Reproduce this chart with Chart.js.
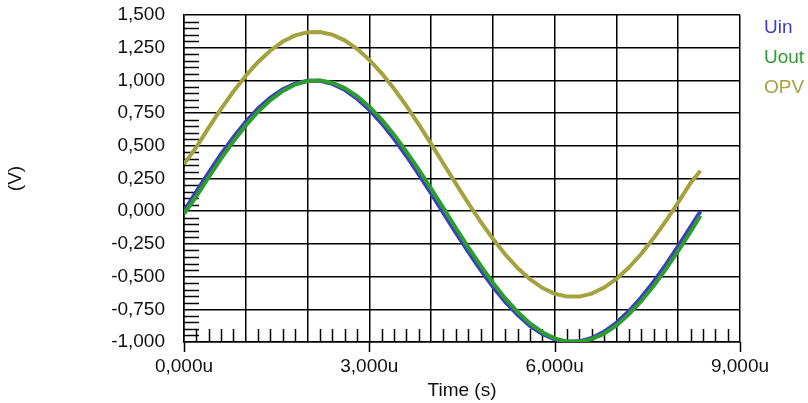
<!DOCTYPE html>
<html>
<head>
<meta charset="utf-8">
<title>Uin / Uout / OPV</title>
<script src="https://cdn.jsdelivr.net/npm/chart.js@4.4.1/dist/chart.umd.min.js"></script>
<style>
    html, body { margin: 0; padding: 0; background: #fff; }
    #wrap { position: relative; width: 808px; height: 403px; }
</style>
</head>
<body>
<div id="wrap"><canvas id="scopeChart" width="808" height="403"></canvas></div>
<script>
// Sample times in microseconds
const timeUs = [0, 200, 400, 600, 800, 1000, 1200, 1400, 1600, 1800,
    2000, 2200, 2400, 2600, 2800, 3000, 3200, 3400, 3600, 3800,
    4000, 4200, 4400, 4600, 4800, 5000, 5200, 5400, 5600, 5800,
    6000, 6200, 6400, 6600, 6800, 7000, 7200, 7400, 7600, 7800,
    8000, 8200, 8360];

// Voltages (V)
const uin = [0.000, 0.150, 0.296, 0.436, 0.566, 0.683, 0.785, 0.869, 0.933, 0.976,
    0.998, 0.997, 0.973, 0.928, 0.861, 0.775, 0.672, 0.553, 0.422, 0.282,
    0.135, -0.015, -0.165, -0.310, -0.449, -0.578, -0.694, -0.793, -0.876, -0.938,
    -0.980, -0.999, -0.995, -0.969, -0.922, -0.853, -0.765, -0.660, -0.541, -0.409,
    -0.267, -0.120, 0.000];

const uout = [-0.020, 0.113, 0.260, 0.402, 0.535, 0.656, 0.761, 0.850, 0.919, 0.968,
    0.995, 1.000, 0.982, 0.942, 0.880, 0.799, 0.700, 0.584, 0.456, 0.318,
    0.172, 0.023, -0.128, -0.274, -0.415, -0.547, -0.667, -0.770, -0.858, -0.925,
    -0.972, -0.997, -0.999, -0.978, -0.937, -0.873, -0.789, -0.688, -0.573, -0.443,
    -0.303, -0.157, -0.035];

const opv = [0.360, 0.490, 0.639, 0.782, 0.915, 1.036, 1.141, 1.229, 1.297, 1.344,
    1.368, 1.370, 1.349, 1.306, 1.242, 1.157, 1.054, 0.936, 0.805, 0.663,
    0.515, 0.363, 0.211, 0.063, -0.079, -0.211, -0.331, -0.434, -0.520, -0.586,
    -0.631, -0.653, -0.653, -0.630, -0.584, -0.518, -0.431, -0.327, -0.207, -0.075,
    0.068, 0.216, 0.310];

const seriesNames = ['Uin', 'Uout', 'OPV'];
const seriesColors = ['#3d3dc4', '#2b9e2b', '#a3a33e'];

const FONT = '"Liberation Sans", Arial, sans-serif';

function toPoints(values) {
    return values.map((v, i) => ({ x: timeUs[i], y: v }));
}

function formatComma(value, digits) {
    return Number(value).toFixed(digits).replace('.', ',');
}

// Short inner ticks along the left and bottom edges, plus the longer marks under labelled times
const minorTicks = {
    id: 'minorTicks',
    beforeDatasetsDraw(chart) {
        const { ctx, chartArea } = chart;
        const xs = chart.scales.x;
        const ys = chart.scales.y;
        ctx.save();
        ctx.strokeStyle = '#000';
        ctx.lineWidth = 1.5;
        ctx.beginPath();
        for (let i = 0; i <= 50; i++) {
            if (i % 5 === 0) continue;
            const y = Math.round(ys.getPixelForValue(-1 + i * 0.05)) + 0.5;
            ctx.moveTo(chartArea.left, y);
            ctx.lineTo(chartArea.left + 15, y);
        }
        for (let t = 200; t < 9000; t += 200) {
            if (t % 1000 === 0) continue;
            const x = Math.round(xs.getPixelForValue(t)) + 0.5;
            ctx.moveTo(x, chartArea.bottom);
            ctx.lineTo(x, chartArea.bottom - 13);
        }
        for (let t = 0; t <= 9000; t += 3000) {
            const x = Math.round(xs.getPixelForValue(t)) + 0.5;
            ctx.moveTo(x, chartArea.bottom);
            ctx.lineTo(x, chartArea.bottom + 10);
        }
        ctx.stroke();
        ctx.restore();
    }
};

// Coloured series names at the right, text only
const sideLegend = {
    id: 'sideLegend',
    afterDraw(chart) {
        const { ctx, chartArea } = chart;
        ctx.save();
        ctx.font = '19px ' + FONT;
        ctx.textAlign = 'left';
        ctx.textBaseline = 'middle';
        seriesNames.forEach((name, i) => {
            ctx.fillStyle = seriesColors[i];
            ctx.fillText(name, chartArea.right + 24, 28 + i * 30);
        });
        ctx.restore();
    }
};

const ctx = document.getElementById('scopeChart').getContext('2d');

new Chart(ctx, {
    type: 'line',
    data: {
        datasets: [
            { label: seriesNames[0], data: toPoints(uin), borderColor: seriesColors[0], order: 2 },
            { label: seriesNames[1], data: toPoints(uout), borderColor: seriesColors[1], order: 1 },
            { label: seriesNames[2], data: toPoints(opv), borderColor: seriesColors[2], order: 3 }
        ]
    },
    options: {
        responsive: false,
        animation: false,
        events: [],
        datasets: {
            line: {
                borderWidth: 4,
                pointRadius: 0,
                tension: 0,
                fill: false
            }
        },
        layout: {
            padding: { left: 0, top: 15, right: 68, bottom: 0 }
        },
        plugins: {
            legend: { display: false },
            tooltip: { enabled: false }
        },
        scales: {
            x: {
                type: 'linear',
                min: 0,
                max: 9000,
                afterFit(scale) { scale.height = 61; },
                grid: {
                    color: '#000',
                    lineWidth: 1.5,
                    drawTicks: false
                },
                border: { color: '#000', width: 1.5 },
                ticks: {
                    stepSize: 1000,
                    autoSkip: false,
                    maxRotation: 0,
                    padding: 13,
                    color: '#111',
                    font: { family: FONT, size: 19 },
                    callback: function(value) {
                        return value % 3000 === 0 ? formatComma(value / 1000, 3) + 'u' : '';
                    }
                },
                title: {
                    display: true,
                    text: 'Time (s)',
                    color: '#111',
                    font: { family: FONT, size: 19 },
                    padding: { top: 0, bottom: 1 }
                }
            },
            y: {
                min: -1,
                max: 1.5,
                afterFit(scale) {
                    scale.width = 184;
                    // label padding is horizontal only here
                    scale.paddingTop = 0;
                    scale.paddingBottom = 0;
                },
                grid: {
                    color: '#000',
                    lineWidth: 1.5,
                    drawTicks: false
                },
                border: { color: '#000', width: 1.5 },
                ticks: {
                    stepSize: 0.25,
                    padding: 19,
                    color: '#111',
                    font: { family: FONT, size: 19 },
                    callback: function(value) {
                        return formatComma(value, 3);
                    }
                },
                title: {
                    display: true,
                    text: '(V)',
                    color: '#111',
                    font: { family: FONT, size: 19 },
                    padding: { top: 4, bottom: 0 }
                }
            }
        }
    },
    plugins: [minorTicks, sideLegend]
});
</script>
</body>
</html>
